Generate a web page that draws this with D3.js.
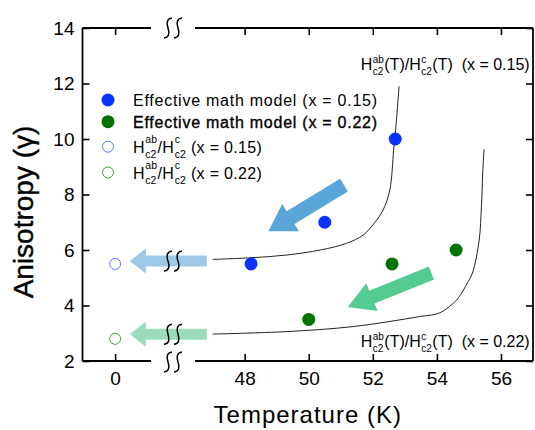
<!DOCTYPE html>
<html>
<head>
<meta charset="utf-8">
<script src="https://cdn.jsdelivr.net/npm/d3@7"></script>
<style>
  html, body { margin: 0; padding: 0; background: #fff; }
  svg { display: block; }
  text { font-family: "Liberation Sans", Arial, sans-serif; fill: #000; }
</style>
</head>
<body>
<svg id="chart" width="535" height="430"></svg>
<script>
// Axis ticks
const tempTicks = [0, 48, 50, 52, 54, 56];
const gammaTicks = [2, 4, 6, 8, 10, 12, 14];

// Effective math model points
const blueModelT = [48.2, 50.5, 52.7];
const blueModelG = [5.5, 7.0, 10.0];
const greenModelT = [50.0, 52.6, 54.6];
const greenModelG = [3.5, 5.5, 6.0];

// Hc2 ratio points (T = 0)
const blueRatioT = [0];
const blueRatioG = [5.5];
const greenRatioT = [0];
const greenRatioG = [2.8];

// Hc2ab(T)/Hc2c(T) curves
const blueCurveT = [47.0, 48.2, 49.32, 50.36, 51.18, 51.7, 52.0, 52.32, 52.53, 52.65, 52.71, 52.82];
const blueCurveG = [5.66, 5.72, 5.82, 6.0, 6.24, 6.54, 6.9, 7.44, 8.16, 9.6, 10.3, 11.9];
const greenCurveT = [47.0, 49.32, 51.38, 53.46, 54.08, 54.48, 54.7, 54.95, 55.11, 55.32, 55.39, 55.43, 55.47];
const greenCurveG = [2.97, 3.06, 3.24, 3.6, 3.73, 4.05, 4.32, 4.81, 5.17, 6.36, 7.56, 8.77, 9.63];

// Legend
const legendLabels = ["Effective math model (x = 0.15)", "Effective math model (x = 0.22)", " (x = 0.15)", " (x = 0.22)"];

const blue = "#0a32ff", green = "#007300";
const blueOpen = "#5b78ff", greenOpen = "#3f9f3f";

const svg = d3.select("#chart");

// Broken temperature axis: a short segment around 0 K and the main range
const x = d3.scaleLinear().domain([-1, 1.1, 46.45, 57]).range([82.5, 151, 195, 533]);
const y = d3.scaleLinear().domain([2, 14]).range([361, 28]);
const gapMid = (x(1.1) + x(46.45)) / 2;
const leftSeg = [x(-1), x(1.1)], rightSeg = [x(46.45), x(57)];

// Axes
const tickFont = "19px";
const axBottom = svg.append("g").attr("transform", `translate(0,${y(2)})`)
  .call(d3.axisBottom(x).tickValues(tempTicks).tickFormat(d3.format("d")).tickSizeInner(-7).tickSizeOuter(0).tickPadding(11));
const axTop = svg.append("g").attr("transform", `translate(0,${y(14)})`)
  .call(d3.axisTop(x).tickValues(tempTicks).tickFormat("").tickSizeInner(-7).tickSizeOuter(0));
const axLeft = svg.append("g").attr("transform", `translate(${x(-1)},0)`)
  .call(d3.axisLeft(y).tickValues(gammaTicks).tickSizeInner(-7).tickSizeOuter(0).tickPadding(8));
const axRight = svg.append("g").attr("transform", `translate(${x(57)},0)`)
  .call(d3.axisRight(y).tickValues(gammaTicks).tickFormat("").tickSizeInner(-7).tickSizeOuter(0));

[axBottom, axTop, axLeft, axRight].forEach(a => {
  a.select(".domain").remove();
  a.selectAll(".tick line").attr("stroke", "#000").attr("stroke-width", 1.6);
  a.selectAll(".tick text").style("font-size", tickFont).attr("fill", "#000")
    .style("font-family", '"Liberation Sans", Arial, sans-serif');
});

const frame = svg.append("g").attr("stroke", "#000").attr("stroke-width", 1.8).attr("fill", "none");
[y(14), y(2)].forEach(yy => {
  [leftSeg, rightSeg].forEach(seg => frame.append("line").attr("x1", seg[0]).attr("x2", seg[1]).attr("y1", yy).attr("y2", yy));
});
frame.append("line").attr("x1", x(-1)).attr("x2", x(-1)).attr("y1", y(14)).attr("y2", y(2));
frame.append("line").attr("x1", x(57)).attr("x2", x(57)).attr("y1", y(14)).attr("y2", y(2));

// Double-S break symbol
function breakMark(cx, cy) {
  const g = svg.append("g").attr("fill", "none").attr("stroke", "#000").attr("stroke-width", 1.5);
  [-5, 5].forEach(dx => {
    const c = cx + dx;
    g.append("path").attr("d", `M${c + 4},${cy - 10} Q${c - 3},${cy - 9} ${c},${cy} T${c - 4},${cy + 10}`);
  });
}

// Block arrow from (x1,y1) to tip (x2,y2)
function blockArrow(x1, y1, x2, y2, shaftW, headW, headL, color) {
  const dx = x2 - x1, dy = y2 - y1, len = Math.hypot(dx, dy);
  const ux = dx / len, uy = dy / len, px = -uy, py = ux;
  const bx = x2 - ux * headL, by = y2 - uy * headL;
  const pts = [
    [x1 + px * shaftW / 2, y1 + py * shaftW / 2],
    [bx + px * shaftW / 2, by + py * shaftW / 2],
    [bx + px * headW / 2, by + py * headW / 2],
    [x2, y2],
    [bx - px * headW / 2, by - py * headW / 2],
    [bx - px * shaftW / 2, by - py * shaftW / 2],
    [x1 - px * shaftW / 2, y1 - py * shaftW / 2]
  ];
  svg.append("path").attr("d", "M" + pts.map(p => p.join(",")).join("L") + "Z").attr("fill", color);
}

// Curves
const line = d3.line().x(d => x(d[0])).y(d => y(d[1])).curve(d3.curveCatmullRom.alpha(0.5));
svg.append("path").datum(blueCurveT.map((t, i) => [t, blueCurveG[i]]))
  .attr("d", line).attr("fill", "none").attr("stroke", "#222").attr("stroke-width", 1);
svg.append("path").datum(greenCurveT.map((t, i) => [t, greenCurveG[i]]))
  .attr("d", line).attr("fill", "none").attr("stroke", "#222").attr("stroke-width", 1);

// Arrows
blockArrow(x(51.1), y(8.34), x(48.74), y(6.68), 15, 32, 26, "#5aa6d9");
blockArrow(x(53.83), y(5.17), x(51.22), y(3.95), 14, 30, 26, "#55cb92");
blockArrow(x(46.82), y(5.6), x(0.45), y(5.6), 11, 25, 16, "#9ec8e8");
blockArrow(x(46.82), y(2.96), x(0.45), y(2.96), 11, 25, 16, "#9adcbc");

breakMark(gapMid, y(5.6));
breakMark(gapMid, y(2.96));
breakMark(gapMid, y(14));
breakMark(gapMid, y(2) + 1);

// Data points
function dots(ts, gs, r, fill, stroke) {
  svg.append("g").selectAll("circle").data(ts.map((t, i) => [t, gs[i]])).join("circle")
    .attr("cx", d => x(d[0])).attr("cy", d => y(d[1])).attr("r", r)
    .attr("fill", fill).attr("stroke", stroke).attr("stroke-width", 1);
}
dots(blueModelT, blueModelG, 6.5, blue, "none");
dots(greenModelT, greenModelG, 6.5, green, "none");
dots(blueRatioT, blueRatioG, 5.5, "#fff", blueOpen);
dots(greenRatioT, greenRatioG, 5.5, "#fff", greenOpen);

// H_c2 ratio label with stacked super/subscripts
function ratioLabel(g, x0, y0, fs, tokens, o) {
  let cx = x0;
  tokens.forEach(tk => {
    if (typeof tk === "string") {
      const t = g.append("text").attr("x", cx).attr("y", y0).style("font-size", fs + "px")
        .style("white-space", "pre").style("letter-spacing", (o.ls || 0) + "px").text(tk);
      cx += t.node().getComputedTextLength();
    } else {
      const s = o.small;
      const a = g.append("text").attr("x", cx + o.pad).attr("y", y0 + o.supDy).style("font-size", s + "px").text(tk[0]);
      const b = g.append("text").attr("x", cx + o.pad).attr("y", y0 + o.subDy).style("font-size", s + "px").text(tk[1]);
      cx += Math.max(a.node().getComputedTextLength(), b.node().getComputedTextLength()) + o.pad * 2;
    }
  });
  return cx;
}

// Legend
const lg = svg.append("g");
const legX = 108, legTextX = 133;
const legY = [100, 121.7, 146.7, 172.5];
lg.append("circle").attr("cx", legX).attr("cy", legY[0]).attr("r", 6.5).attr("fill", blue);
lg.append("circle").attr("cx", legX).attr("cy", legY[1]).attr("r", 6.5).attr("fill", green);
lg.append("circle").attr("cx", legX).attr("cy", legY[2]).attr("r", 5.5).attr("fill", "#fff").attr("stroke", blueOpen);
lg.append("circle").attr("cx", legX).attr("cy", legY[3]).attr("r", 5.5).attr("fill", "#fff").attr("stroke", greenOpen);
lg.append("text").attr("x", legTextX).attr("y", legY[0] + 6).style("font-size", "16px")
  .style("letter-spacing", "0.75px").text(legendLabels[0]);
lg.append("text").attr("x", legTextX).attr("y", legY[1] + 6).style("font-size", "16px")
  .style("letter-spacing", "0.75px").attr("stroke", "#000").attr("stroke-width", 0.35).text(legendLabels[1]);
const legOpts = { small: 10.5, pad: 0.5, supDy: -10, subDy: 4.5, ls: 0.3 };
ratioLabel(lg, legTextX, legY[2] + 6.5, 16, ["H", ["ab", "c2"], "/H", ["c", "c2"], legendLabels[2]], legOpts);
ratioLabel(lg, legTextX, legY[3] + 6.5, 16, ["H", ["ab", "c2"], "/H", ["c", "c2"], legendLabels[3]], legOpts);

// Curve annotations
const annOpts = { small: 10, pad: 0.5, supDy: -7, subDy: 5 };
ratioLabel(svg.append("g"), x(51.62), y(12.49), 16, ["H", ["ab", "c2"], "(T)/H", ["c", "c2"], "(T)  (x = 0.15)"], annOpts);
ratioLabel(svg.append("g"), x(51.62), y(2.52), 16, ["H", ["ab", "c2"], "(T)/H", ["c", "c2"], "(T)  (x = 0.22)"], annOpts);

// Axis titles
svg.append("text").attr("x", (x(-1) + x(57)) / 2).attr("y", 423).attr("text-anchor", "middle")
  .style("font-size", "24px").style("letter-spacing", "1px").text("Temperature (K)");
svg.append("text").attr("transform", "translate(33,212) rotate(-90)").attr("text-anchor", "middle")
  .style("font-size", "28px").attr("stroke", "#000").attr("stroke-width", 0.4)
  .text("Anisotropy (γ)");
</script>
</body>
</html>
